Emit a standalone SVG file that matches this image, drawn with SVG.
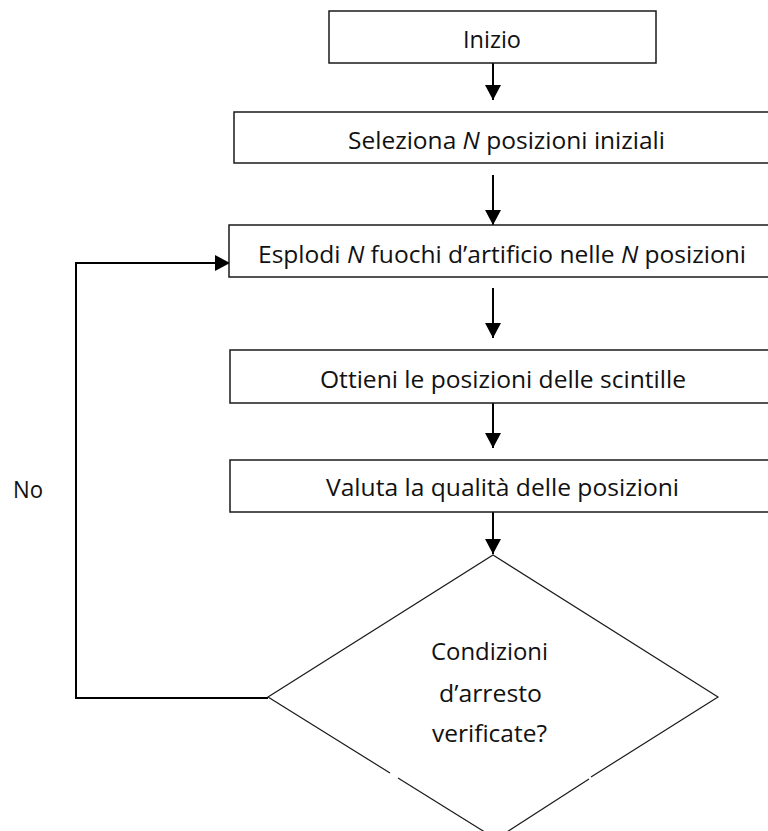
<svg xmlns="http://www.w3.org/2000/svg" width="768" height="831" viewBox="0 0 768 831">
<defs>
<style>
.box{fill:#fff;stroke:#1a1a1a;stroke-width:1.5}
.dia{fill:none;stroke:#1a1a1a;stroke-width:1.2}
.lbl{font-family:"Open Sans","Noto Sans","Liberation Sans",sans-serif;font-size:24px;fill:#111}
.conn{fill:none;stroke:#000;stroke-width:2}
</style>
<marker id="ah" markerUnits="userSpaceOnUse" viewBox="0 0 15 16" refX="15" refY="8" markerWidth="15" markerHeight="16" orient="auto">
<path d="M0,0 L15,8 L0,16 z" fill="#000"/>
</marker>
</defs>
<rect width="768" height="831" fill="#fff"/>
<g id="connectors">
<line class="conn" x1="493" y1="63" x2="493" y2="100" marker-end="url(#ah)"/>
<line class="conn" x1="493" y1="175" x2="493" y2="225" marker-end="url(#ah)"/>
<line class="conn" x1="493" y1="288" x2="493" y2="338" marker-end="url(#ah)"/>
<line class="conn" x1="493" y1="403" x2="493" y2="448" marker-end="url(#ah)"/>
<line class="conn" x1="493" y1="512" x2="493" y2="554" marker-end="url(#ah)"/>
<polyline class="conn" points="268,698 76,698 76,263 230,263" marker-end="url(#ah)"/>
</g>
<g id="n-inizio">
<rect class="box" x="329" y="11" width="327" height="52"/>
<text class="lbl" x="463" y="48" textLength="58" lengthAdjust="spacingAndGlyphs">Inizio</text>
</g>
<g id="n-seleziona">
<rect class="box" x="234" y="112" width="542" height="51"/>
<text class="lbl" x="348" y="149" textLength="317" lengthAdjust="spacingAndGlyphs">Seleziona <tspan font-style="italic">N</tspan> posizioni iniziali</text>
</g>
<g id="n-esplodi">
<rect class="box" x="229" y="225" width="547" height="52"/>
<text class="lbl" x="258" y="263" textLength="488" lengthAdjust="spacingAndGlyphs">Esplodi <tspan font-style="italic">N</tspan> fuochi d’artificio nelle <tspan font-style="italic">N</tspan> posizioni</text>
</g>
<g id="n-ottieni">
<rect class="box" x="230" y="350" width="546" height="53"/>
<text class="lbl" x="320" y="388" textLength="366" lengthAdjust="spacingAndGlyphs">Ottieni le posizioni delle scintille</text>
</g>
<g id="n-valuta">
<rect class="box" x="230" y="460" width="546" height="52"/>
<text class="lbl" x="326" y="496" textLength="353" lengthAdjust="spacingAndGlyphs">Valuta la qualità delle posizioni</text>
</g>
<g id="n-condizioni">
<polyline class="dia" points="390,773 268,697 493,555 718,697 591,777"/>
<line class="dia" x1="398" y1="778" x2="496" y2="839"/>
<line class="dia" x1="589" y1="779" x2="496" y2="839"/>
<text class="lbl" x="431" y="660" textLength="117" lengthAdjust="spacingAndGlyphs">Condizioni</text>
<text class="lbl" x="439" y="702" textLength="103" lengthAdjust="spacingAndGlyphs">d’arresto</text>
<text class="lbl" x="432" y="742" textLength="115" lengthAdjust="spacingAndGlyphs">verificate?</text>
</g>
<g id="l-no">
<text class="lbl" x="13" y="498" textLength="30" lengthAdjust="spacingAndGlyphs">No</text>
</g>
</svg>
